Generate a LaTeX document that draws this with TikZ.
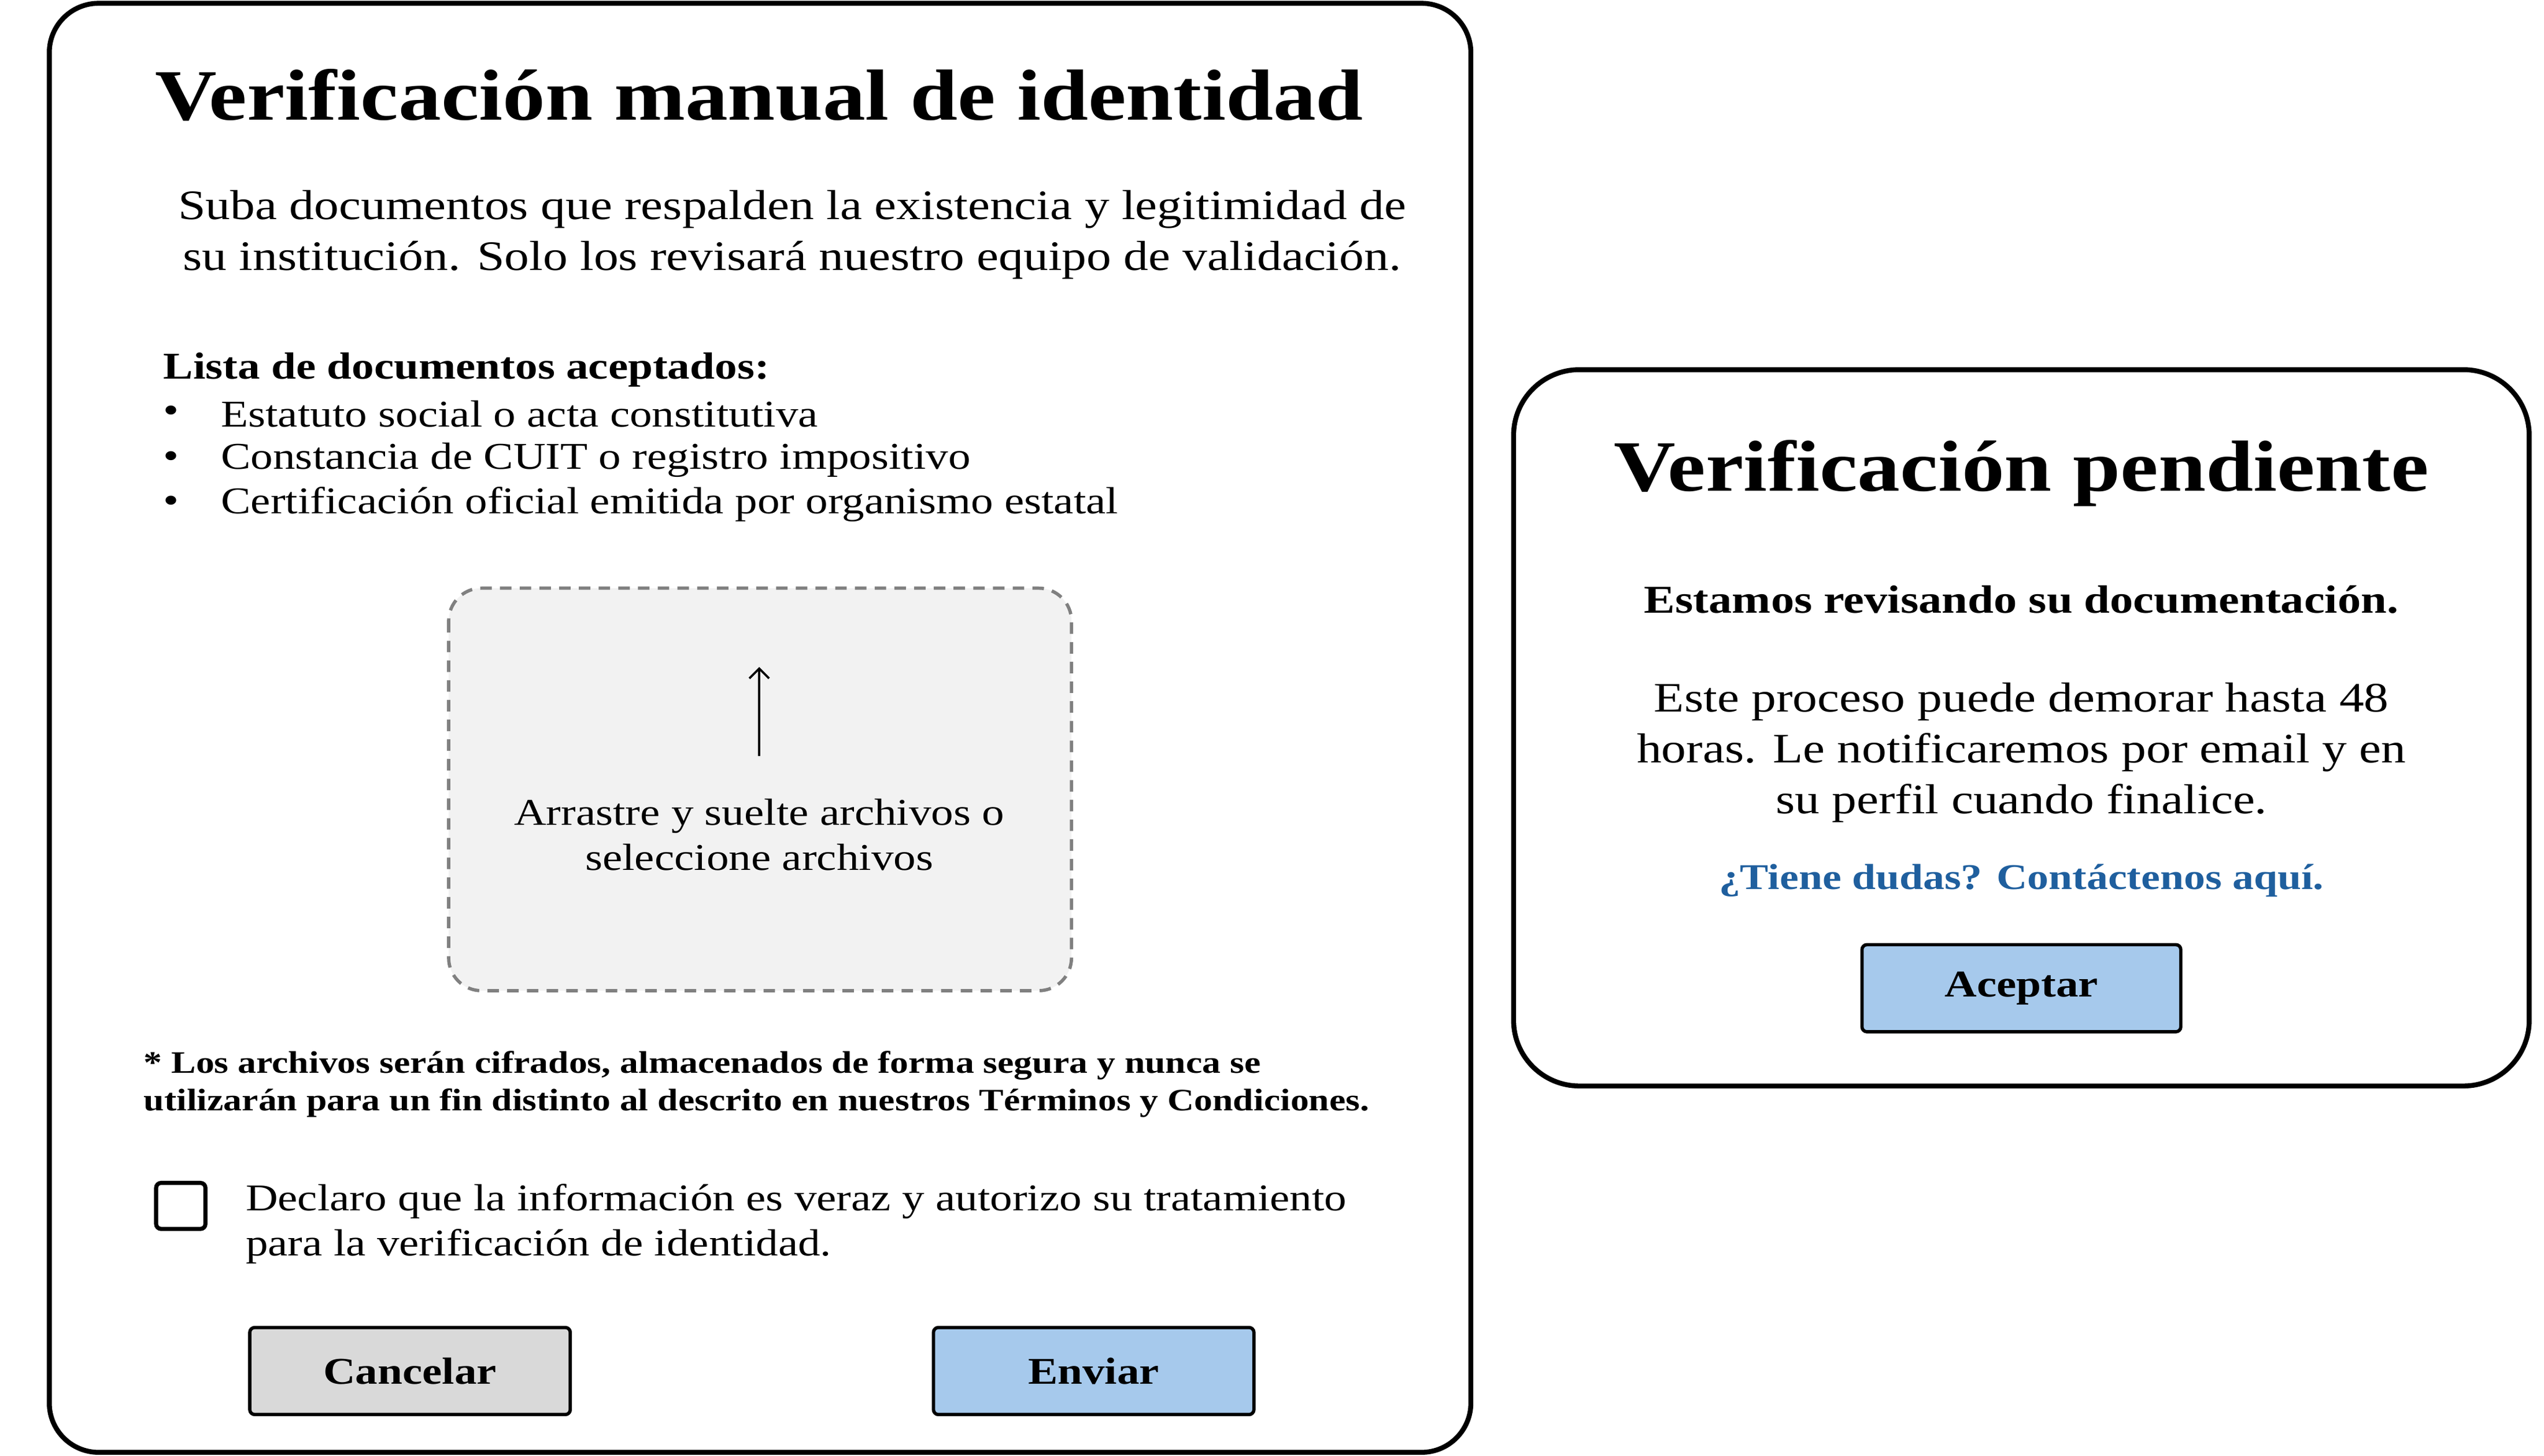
\documentclass[tikz,border=0pt]{standalone}
\usetikzlibrary{arrows.meta}
\usepackage{fontspec}
\setmainfont[FakeStretch=1.18]{Liberation Serif}
\definecolor{btnblue}{HTML}{A6C9EC}
\definecolor{btngray}{HTML}{D9D9D9}
\definecolor{dropfill}{HTML}{F2F2F2}
\definecolor{linkblue}{HTML}{1F5F9E}
\begin{document}
\begin{tikzpicture}[x=1pt,y=-1pt,
  panel/.style={draw,line width=3pt,rounded corners=30pt},
  btn/.style={draw,line width=2pt,rounded corners=3pt},
  ttl/.style={font=\fontsize{44}{50}\selectfont\bfseries},
  body/.style={font=\fontsize{25.5}{31}\selectfont,align=center},
  small/.style={font=\fontsize{23}{27.5}\selectfont},
  btxt/.style={font=\fontsize{23}{28}\selectfont\bfseries}]
\useasboundingbox (0,0) rectangle (1548,886);
% left panel
\draw[panel] (30,2) rectangle (895,884);
\node[ttl] (t1) at (462,58) {Verificación manual de identidad};
\node[body] (p1) at (482,143) {Suba documentos que respalden la existencia y legitimidad de\\su institución. Solo los revisará nuestro equipo de validación.};
\node[small,anchor=west,font=\fontsize{23}{28}\selectfont\bfseries] (lh) at (96,225) {Lista de documentos aceptados:};
\foreach \y/\t [count=\i] in {252/Estatuto social o acta constitutiva,280/Constancia de CUIT o registro impositivo,307/Certificación oficial emitida por organismo estatal}{
  \node[small,anchor=center] (b\i) at (104,\y) {•};
  \node[small,anchor=west] (l\i) at (131,\y) {\t};
}
\draw[draw=gray,line width=2pt,fill=dropfill,rounded corners=20pt,dash pattern=on 7pt off 5pt] (273,358) rectangle (652,603);
\coordinate (a0) at (462,460); \coordinate (a1) at (462,406);
\draw[line width=1.3pt,-{Straight Barb[length=6pt]}] (a0) -- (a1);
\node[small,align=center] (dz) at (462,508) {Arrastre y suelte archivos o\\seleccione archivos};
\node[anchor=west,align=left,font=\fontsize{19}{23}\selectfont\bfseries] (fn) at (84,660) {* Los archivos serán cifrados, almacenados de forma segura y nunca se\\utilizarán para un fin distinto al descrito en nuestros Términos y Condiciones.};
\draw[line width=2.5pt,rounded corners=3pt] (95,720) rectangle (125,748);
\node[small,anchor=west,align=left] (ck) at (146,745) {Declaro que la información es veraz y autorizo su tratamiento\\para la verificación de identidad.};
\node[btn,fill=btngray,minimum width=195pt,minimum height=53pt,btxt] (cancel) at (249.5,834.5) {Cancelar};
\node[btn,fill=btnblue,minimum width=195pt,minimum height=53pt,btxt] (send) at (665.5,834.5) {Enviar};
% right panel
\draw[panel,rounded corners=40pt] (921,225) rectangle (1539,661);
\node[ttl] (t2) at (1230,288) {Verificación pendiente};
\node[font=\fontsize{24}{29}\selectfont\bfseries] (s2) at (1230,365) {Estamos revisando su documentación.};
\node[body] (p2) at (1230,458) {Este proceso puede demorar hasta 48\\horas. Le notificaremos por email y en\\su perfil cuando finalice.};
\node[font=\fontsize{22}{27}\selectfont\bfseries,text=linkblue] (lk) at (1230,536) {¿Tiene dudas? Contáctenos aquí.};
\node[btn,fill=btnblue,minimum width=194pt,minimum height=53pt,btxt] (ok) at (1230,601.5) {Aceptar};
\end{tikzpicture}
\end{document}
